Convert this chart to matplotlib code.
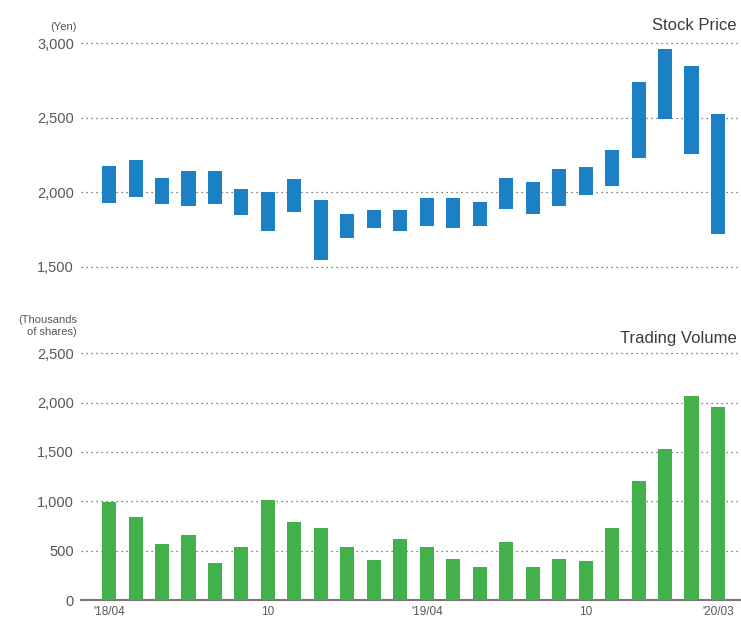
import numpy as np
import matplotlib.pyplot as plt

plt.rcParams['font.family'] = ['Liberation Sans', 'DejaVu Sans']

months = ["'18/04", "05", "06", "07", "08", "09", "10", "11", "12", "'19/01", "02", "03",
          "'19/04", "05", "06", "07", "08", "09", "10", "11", "12", "'20/01", "02", "'20/03"]
price_high = [2175, 2216, 2095, 2142, 2142, 2021, 2000, 2088, 1947, 1853, 1880, 1880,
              1960, 1960, 1934, 2095, 2068, 2155, 2169, 2283, 2740, 2962, 2847, 2525]
price_low = [1929, 1969, 1922, 1909, 1922, 1848, 1741, 1868, 1546, 1694, 1761, 1741,
             1774, 1761, 1774, 1889, 1855, 1909, 1983, 2043, 2231, 2493, 2258, 1721]
volume = [995, 842, 568, 659, 375, 537, 1015, 791, 730, 537, 406, 619,
          537, 416, 335, 588, 335, 416, 396, 730, 1207, 1531, 2065, 1955]
shown_ticks = {0: "'18/04", 6: "10", 12: "'19/04", 18: "10", 23: "'20/03"}

blue = '#1b80c4'
green = '#43b14b'
text_c = '#595757'
grid_c = '#555555'

W, H = 741, 617
fig = plt.figure(figsize=(W / 100, H / 100), dpi=100)

def px_axes(left, top, right, bottom):
    return fig.add_axes([left / W, 1 - bottom / H, (right - left) / W, (bottom - top) / H])

x = np.arange(len(months))
xlim = (-1.06, 23.87)

ax1 = px_axes(81, 43.3, 741, 266.7)
ax1.bar(x, np.array(price_high) - np.array(price_low), bottom=price_low,
        width=0.53, color=blue, zorder=3)
ax1.set_xlim(*xlim)
ax1.set_ylim(1500, 3000)
ax1.set_yticks([1500, 2000, 2500, 3000])
ax1.set_yticklabels(['1,500', '2,000', '2,500', '3,000'])
ax1.set_xticks([])

ax2 = px_axes(81, 353.3, 741, 600)
ax2.bar(x, volume, width=0.53, color=green, zorder=3)
ax2.set_xlim(*xlim)
ax2.set_ylim(0, 2500)
ax2.set_yticks([0, 500, 1000, 1500, 2000, 2500])
ax2.set_yticklabels(['0', '500', '1,000', '1,500', '2,000', '2,500'])
ax2.set_xticks(list(shown_ticks.keys()))
ax2.set_xticklabels(list(shown_ticks.values()))

for ax in (ax1, ax2):
    for s in ax.spines.values():
        s.set_visible(False)
    ax.yaxis.grid(True, linestyle=(0, (1, 3)), color=grid_c, linewidth=0.9, zorder=0)
    ax.tick_params(axis='y', length=0, pad=5, labelsize=10.5, labelcolor=text_c)
    ax.tick_params(axis='x', length=0, pad=4, labelsize=8.5, labelcolor=text_c)
    for gl in ax.yaxis.get_gridlines():
        gl.set_clip_on(False)

ax2.yaxis.get_gridlines()[0].set_visible(False)
ax2.spines['bottom'].set_visible(True)
ax2.spines['bottom'].set_color('#777777')
ax2.spines['bottom'].set_linewidth(1.5)

fig.text(737 / W, 1 - 25 / H, 'Stock Price', ha='right', va='center', fontsize=12, color='#3e3a39')
fig.text(737 / W, 1 - 339 / H, 'Trading Volume', ha='right', va='center', fontsize=12, color='#3e3a39')
fig.text(77 / W, 1 - 27 / H, '(Yen)', ha='right', va='center', fontsize=8, color=text_c)
fig.text(77 / W, 1 - 326 / H, '(Thousands\nof shares)', ha='right', va='center', fontsize=8,
         color=text_c, multialignment='right', linespacing=1.3)

fig.savefig('out.png', dpi=100)
